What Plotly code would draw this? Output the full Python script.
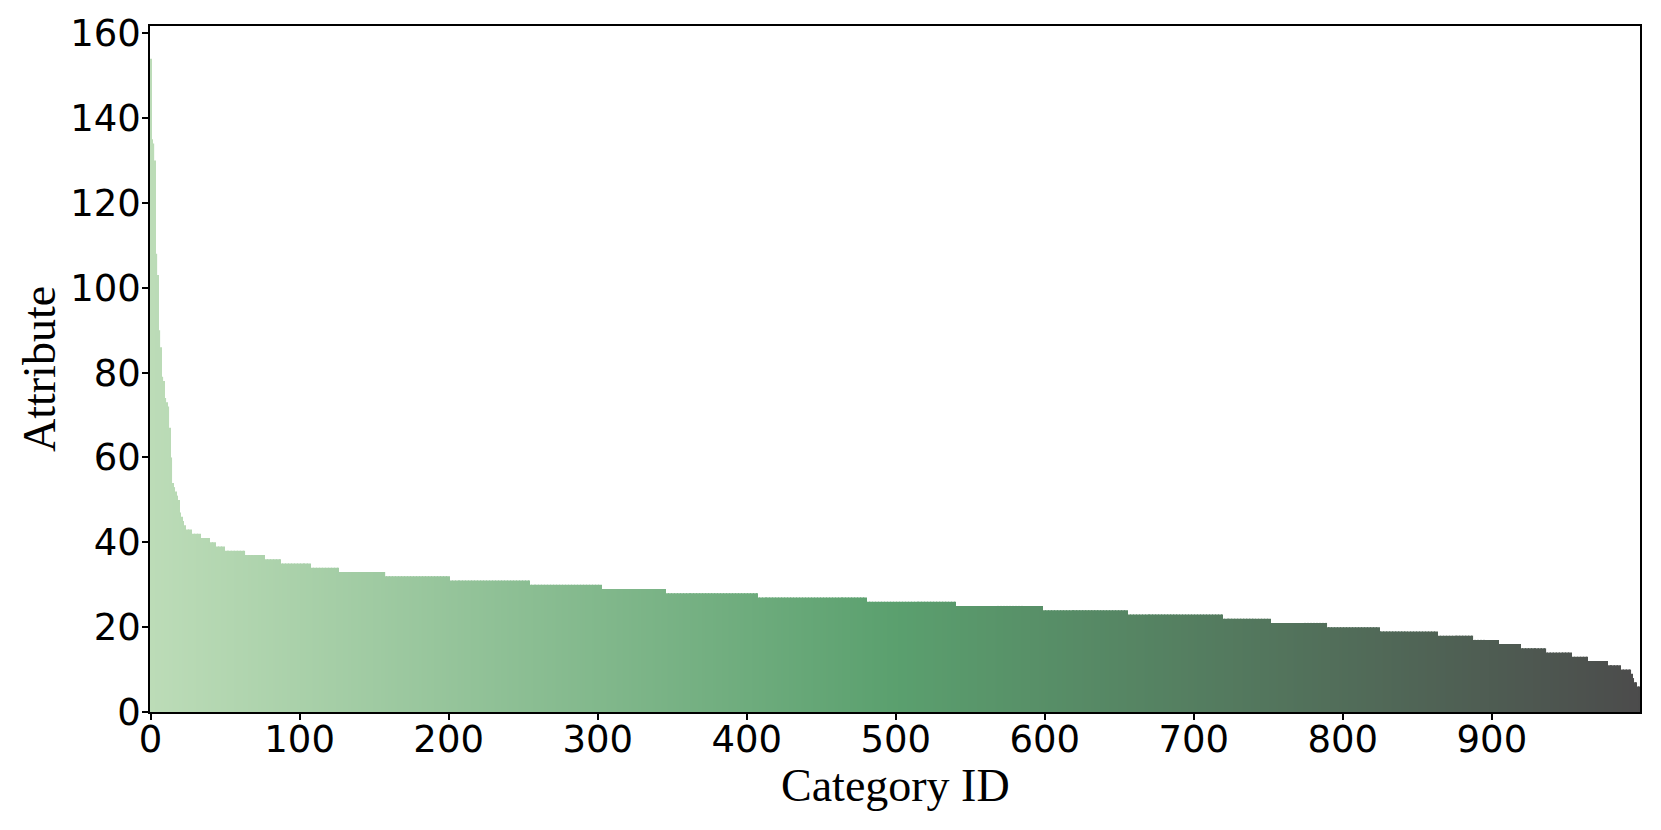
import colorsys
import numpy as np
import plotly.graph_objects as go

# ---- data ----
# first bars (individual values, sorted descending)
head_values = [154, 135, 134, 130, 108, 103, 90, 86, 79, 78, 74, 73, 72, 67,
               60, 54, 53, 52, 51, 50, 47, 46, 45, 44]
# remaining bars: plateau values and how many bars share each value
plateau_values = [43, 42, 41, 40, 39, 38, 37, 36, 35, 34, 33, 32, 31, 30, 29, 28,
                  27, 26, 25, 24, 23, 22, 21, 20, 19, 18, 17, 16, 15, 14, 13, 12,
                  11, 10, 9, 8, 7, 6]
plateau_counts = [4, 6, 6, 4, 6, 14, 13, 11, 20, 19, 31, 43, 54, 48, 43, 62,
                  73, 60, 58, 57, 64, 32, 38, 35, 39, 24, 17, 15, 17, 17, 11, 13,
                  9, 7, 1, 1, 2, 2]
x_tick_vals = [0, 100, 200, 300, 400, 500, 600, 700, 800, 900]
y_tick_vals = [0, 20, 40, 60, 80, 100, 120, 140, 160]
x_title = "Category ID"
y_title = "Attribute"

values = list(head_values)
for v, c in zip(plateau_values, plateau_counts):
    values.extend([v] * c)
categories = list(range(len(values)))

# ---- colours: light green -> green -> dark grey, desaturated, lightened ----
stops = np.array([[174, 222, 167], [55, 160, 85], [51, 51, 51]]) / 255.0
n = len(values)
t = np.linspace(0, 1, n)
pos = np.array([0.0, 0.5, 1.0])
rgb = np.stack([np.interp(t, pos, stops[:, k]) for k in range(3)], axis=1)
colors = []
for r, g, b in rgb:
    h, l, s = colorsys.rgb_to_hls(r, g, b)
    r2, g2, b2 = colorsys.hls_to_rgb(h, l, s * 0.75)
    mix = 0.12
    r2, g2, b2 = [c * (1 - mix) + mix for c in (r2, g2, b2)]
    colors.append("rgb(%d,%d,%d)" % (round(r2 * 255), round(g2 * 255), round(b2 * 255)))

fig = go.Figure(go.Bar(x=categories, y=values, marker=dict(color=colors, line=dict(width=0))))

tick_font = dict(family="DejaVu Sans", size=37, color="black")
title_font = dict(family="Liberation Serif", size=46, color="black")

# page body has an 8px default margin, so the figure is sized to fit the window
fig.update_layout(
    width=1653, height=822,
    margin=dict(l=142, r=21, t=18, b=118),
    paper_bgcolor="white", plot_bgcolor="white",
    bargap=0.2, showlegend=False,
    annotations=[
        dict(text=x_title, xref="paper", yref="paper", x=0.5, y=0,
             xanchor="center", yanchor="middle", yshift=-73,
             showarrow=False, font=title_font),
        dict(text=y_title, xref="paper", yref="paper", x=0, y=0.5,
             xanchor="center", yanchor="middle", xshift=-111, textangle=-90,
             showarrow=False, font=title_font),
    ],
)
fig.update_xaxes(
    range=[-0.4, 999.4], tickmode="array", tickvals=x_tick_vals,
    ticks="outside", ticklen=6, tickwidth=1.5, tickcolor="black",
    showline=True, linecolor="black", linewidth=1.5, mirror=True,
    showgrid=False, zeroline=False, tickfont=tick_font, automargin=False,
    ticklabelstandoff=-12,
)
fig.update_yaxes(
    range=[0, 161.7], tickmode="array", tickvals=y_tick_vals,
    ticks="outside", ticklen=6, tickwidth=1.5, tickcolor="black",
    showline=True, linecolor="black", linewidth=1.5, mirror=True,
    showgrid=False, zeroline=False, tickfont=tick_font, automargin=False,
    ticklabelstandoff=-6,
)

fig.write_html("out.html")
